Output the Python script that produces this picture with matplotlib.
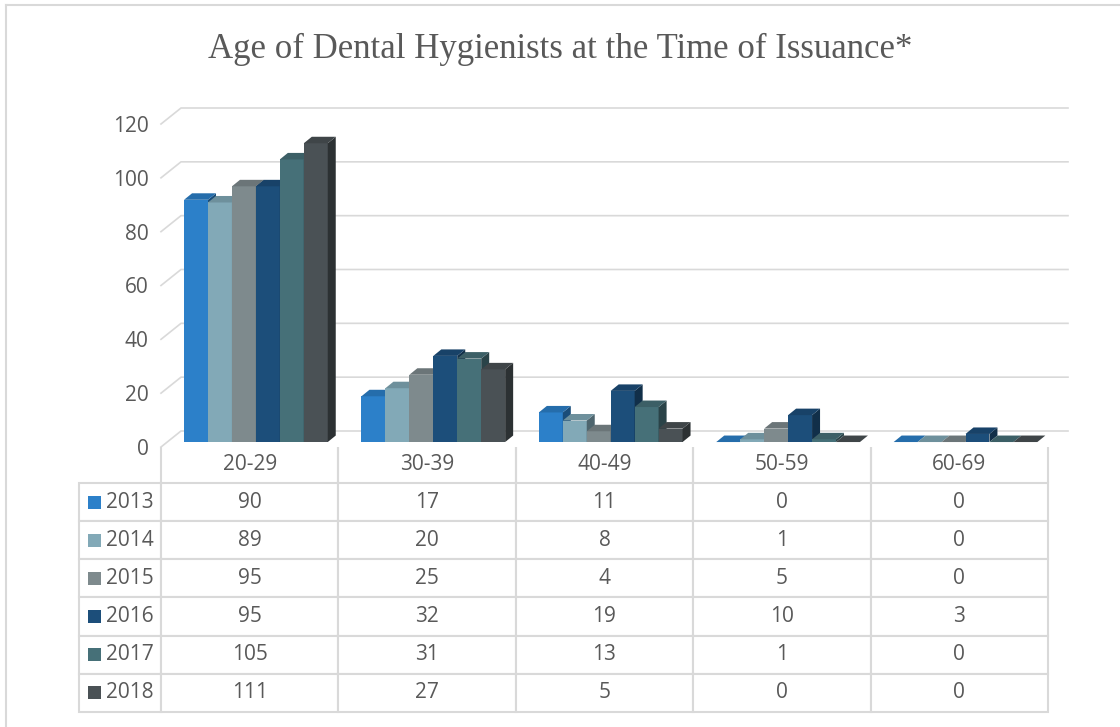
import matplotlib.pyplot as plt
from matplotlib.patches import Polygon, Rectangle
from matplotlib.lines import Line2D

# data
ages = ['20-29', '30-39', '40-49', '50-59', '60-69']
years = ['2013', '2014', '2015', '2016', '2017', '2018']
v2013 = [90, 17, 11, 0, 0]
v2014 = [89, 20, 8, 1, 0]
v2015 = [95, 25, 4, 5, 0]
v2016 = [95, 32, 19, 10, 3]
v2017 = [105, 31, 13, 1, 0]
v2018 = [111, 27, 5, 0, 0]
series = [v2013, v2014, v2015, v2016, v2017, v2018]
colors = ['#2c80c9', '#82a9b7', '#7e8a8d', '#1c4e7a', '#467078', '#4a5155']

grey = '#595959'
line_c = '#d9d9d9'

W, H = 1120, 727
fig = plt.figure(figsize=(W / 100, H / 100), dpi=100)

# front plane of the chart: x 161..1048 px, y 447 (0) .. 124 (120) px
ax = fig.add_axes([161 / W, 1 - 447 / H, 887 / W, 323 / H])
ax.set_xlim(-0.5, 4.5)
ax.set_ylim(0, 120)
for s in ax.spines.values():
    s.set_visible(False)
ax.set_xticks([])
ax.set_yticks(range(0, 121, 20))
ax.tick_params(axis='y', length=0, pad=9, labelsize=15, labelcolor=grey)
for lab in ax.get_yticklabels():
    lab.set_fontfamily('Open Sans')

# depth of the 3d floor in data units
px_x = 887 / 5
px_y = 323 / 120
fdx, fdy = 20 / px_x, 16 / px_y
bdx, bdy = 8 / px_x, 6.5 / px_y
front = 0.31  # bars sit a bit behind the front edge

# back wall gridlines
for v in range(0, 121, 20):
    ax.add_line(Line2D([-0.5, -0.5 + fdx, 4.5 + fdx], [v, v + fdy, v + fdy],
                       color=line_c, lw=1.2, zorder=1, clip_on=False))


def shade(c, f):
    r, g, b = plt.matplotlib.colors.to_rgb(c)
    return (r * f, g * f, b * f)


bw = 0.135
z = 2
for i in range(len(ages)):
    for k, vals in enumerate(series):
        x0 = i + (k - 3) * bw + front * fdx
        x1 = x0 + bw
        y0 = front * fdy
        y1 = y0 + vals[i]
        c = colors[k]
        ax.bar(x0, vals[i], width=bw, bottom=y0, align='edge', color=c,
               linewidth=0, zorder=z, clip_on=False)
        top = Polygon([(x0, y1), (x1, y1), (x1 + bdx, y1 + bdy), (x0 + bdx, y1 + bdy)],
                      closed=True, facecolor=shade(c, 0.85), edgecolor='none',
                      zorder=z, clip_on=False)
        side = Polygon([(x1, y0), (x1 + bdx, y0 + bdy), (x1 + bdx, y1 + bdy), (x1, y1)],
                       closed=True, facecolor=shade(c, 0.6), edgecolor='none',
                       zorder=z, clip_on=False)
        ax.add_patch(side)
        ax.add_patch(top)
        z += 1

# data table below the chart
cell_text = [[y] + [str(s[i]) for i in range(len(ages))] for y, s in zip(years, series)]
tbl = ax.table(cellText=cell_text, colLabels=[''] + ages,
               colWidths=[82] + [887 / 5] * 5,
               bbox=[-82 / 887, -265 / 323, 969 / 887, 265 / 323],
               cellLoc='center')
tbl.auto_set_font_size(False)
tbl.set_fontsize(15)
for (r, c), cell in tbl.get_celld().items():
    cell.set_edgecolor(line_c)
    cell.set_linewidth(1.5)
    cell.get_text().set_color(grey)
    cell.get_text().set_fontfamily('Open Sans')
    if r == 0:
        cell.set_height(cell.get_height() * 36 / 38.2)
        cell.visible_edges = '' if c == 0 else 'LR'
    if c == 0 and r > 0:
        cell.get_text().set_ha('left')
        cell.PAD = 0.33

# colour squares in the row labels
row_h = 229 / 6
for k, c in enumerate(colors):
    yc = 447 + 36 + row_h * (k + 0.5)
    ax.add_patch(Rectangle(((88 - 161) / 887, (447 - yc - 6.5) / 323), 13 / 887, 13 / 323,
                           transform=ax.transAxes, facecolor=c, edgecolor='none',
                           clip_on=False))

fig.text(0.5, 1 - 58 / H, 'Age of Dental Hygienists at the Time of Issuance*',
         ha='center', va='baseline', fontsize=25, color=grey, family='Liberation Serif')

# outer frame (only top and left visible)
fig.add_artist(Line2D([6 / W, 1], [1 - 5 / H, 1 - 5 / H], transform=fig.transFigure,
                      color=line_c, lw=1.5))
fig.add_artist(Line2D([6 / W, 6 / W], [0, 1 - 5 / H], transform=fig.transFigure,
                      color=line_c, lw=1.5))

fig.savefig('out.png', dpi=100)
